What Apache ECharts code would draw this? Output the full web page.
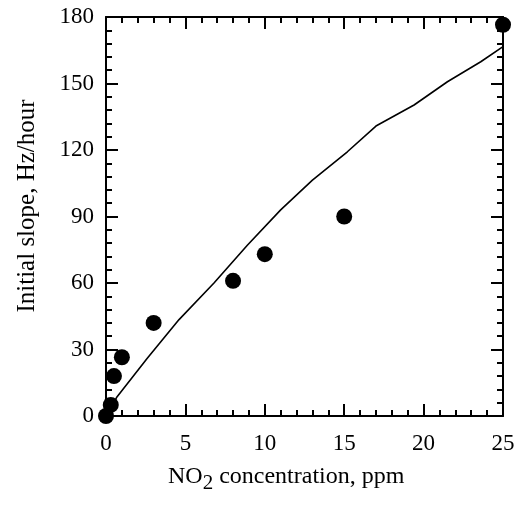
<!DOCTYPE html>
<html>
<head>
<meta charset="utf-8">
<script src="https://cdn.jsdelivr.net/npm/echarts@6/dist/echarts.min.js"></script>
<style>
  html, body { margin: 0; padding: 0; background: #fff; }
  #chart { width: 525px; height: 506px; }
</style>
</head>
<body>
<div id="chart"></div>
<script>
// Measured initial slopes versus NO2 concentration
const concentration = [0, 0.3, 0.5, 1, 3, 8, 10, 15, 25];
const initialSlope = [0, 5, 18, 26.5, 42, 61, 73, 90, 176.5];

// Fitted response curve
const fitConcentration = [0, 0.7, 2.6, 4.6, 6.8, 8.9, 11, 13, 15.2, 17, 19.4, 21.5, 23.6, 25];
const fitSlope = [0, 8.7, 26, 43.5, 60, 77, 93, 106.4, 119.2, 130.8, 140.3, 150.8, 159.8, 166.6];

const xTicks = [0, 5, 10, 15, 20, 25];
const yTicks = [0, 30, 60, 90, 120, 150, 180];

const FONT = 'Liberation Serif';

const points = concentration.map((c, i) => [c, initialSlope[i]]);
const fitLine = fitConcentration.map((c, i) => [c, fitSlope[i]]);

function axisBase(extra) {
  return Object.assign({
    type: 'value',
    axisLine: { show: true, onZero: false, lineStyle: { color: '#000', width: 2 } },
    axisTick: { show: true, inside: true, length: 12, lineStyle: { color: '#000', width: 2 } },
    minorTick: { show: true, splitNumber: 5, length: 6, lineStyle: { color: '#000', width: 2 } },
    splitLine: { show: false },
    axisLabel: { show: false }
  }, extra);
}

const labelStyle = { color: '#000', fontFamily: FONT, fontSize: 23 };

const chart = echarts.init(document.getElementById('chart'));
chart.setOption({
  backgroundColor: '#fff',
  animation: false,
  grid: { left: 106, top: 17, right: 22, bottom: 90 },
  xAxis: [
    axisBase({
      position: 'bottom', min: xTicks[0], max: xTicks[xTicks.length - 1], interval: 5,
      axisLabel: Object.assign({ show: true, margin: 16 }, labelStyle)
    }),
    axisBase({ position: 'top', min: xTicks[0], max: xTicks[xTicks.length - 1], interval: 5 })
  ],
  yAxis: [
    axisBase({
      position: 'left', min: yTicks[0], max: yTicks[yTicks.length - 1], interval: 30,
      axisLabel: Object.assign({ show: true, margin: 12 }, labelStyle)
    }),
    axisBase({ position: 'right', min: yTicks[0], max: yTicks[yTicks.length - 1], interval: 30 })
  ],
  series: [
    {
      type: 'line',
      data: fitLine,
      showSymbol: false,
      smooth: false,
      lineStyle: { color: '#000', width: 1.6 },
      z: 3
    },
    {
      type: 'scatter',
      data: points,
      symbol: 'circle',
      symbolSize: 16,
      itemStyle: { color: '#000', opacity: 1 },
      clip: false,
      z: 4
    }
  ],
  graphic: [
    {
      type: 'text',
      left: 168,
      top: 465,
      style: {
        text: '{a|NO}{s|2}{a| concentration, ppm}',
        rich: {
          a: { fontFamily: FONT, fontSize: 24, fill: '#000', lineHeight: 30, verticalAlign: 'top' },
          s: { fontFamily: FONT, fontSize: 21, fill: '#000', lineHeight: 30, verticalAlign: 'top', padding: [8, 0, 0, 0] }
        }
      }
    },
    {
      type: 'text',
      x: 27,
      y: 206,
      rotation: Math.PI / 2,
      style: {
        text: 'Initial slope, Hz/hour',
        fontFamily: FONT,
        fontSize: 25,
        fill: '#000',
        align: 'center',
        verticalAlign: 'middle'
      }
    }
  ]
});
</script>
</body>
</html>
